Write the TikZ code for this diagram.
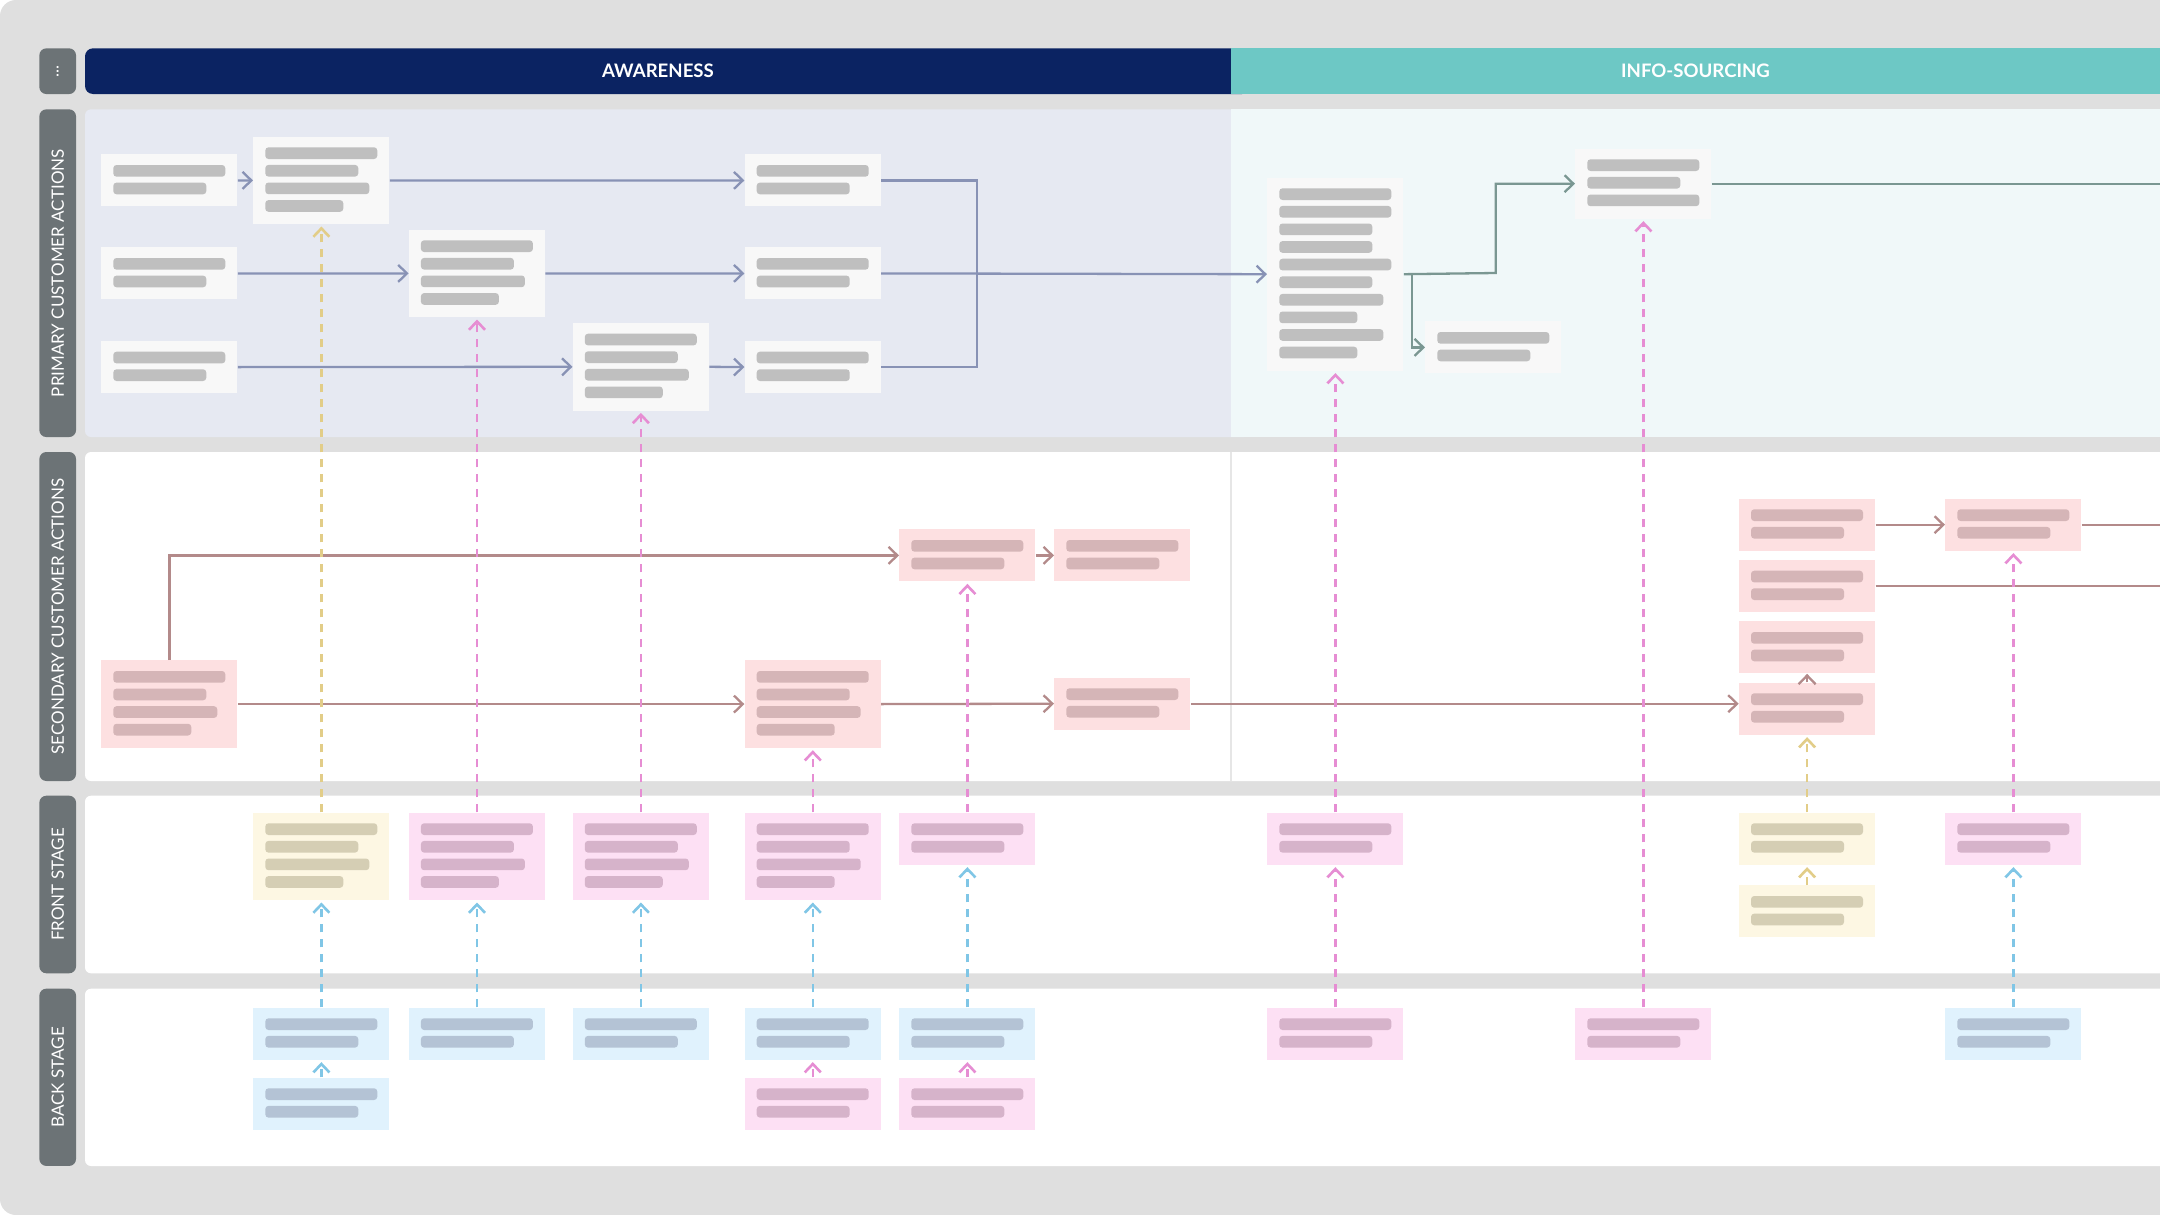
\documentclass[tikz,border=0pt]{standalone}
\usepackage{fontspec}
\setmainfont{Lato}
\usetikzlibrary{arrows.meta}
\definecolor{bggray}{HTML}{DFDFDF}
\definecolor{labgray}{HTML}{6C7376}
\definecolor{navy}{HTML}{0B2362}
\definecolor{teal}{HTML}{6DC8C5}
\definecolor{panA}{HTML}{E6E9F2}
\definecolor{panI}{HTML}{F0F8F9}
\definecolor{divcol}{HTML}{E6E6E6}
\definecolor{Pcard}{HTML}{F8F8F8}
\definecolor{Pbar}{HTML}{BFBFBF}
\definecolor{Scard}{HTML}{FDE0E1}
\definecolor{Sbar}{HTML}{D5B5B7}
\definecolor{Ycard}{HTML}{FDF7E3}
\definecolor{Ybar}{HTML}{D5CEB4}
\definecolor{Mcard}{HTML}{FDE0F4}
\definecolor{Mbar}{HTML}{D6B3CA}
\definecolor{Bcard}{HTML}{E0F2FD}
\definecolor{Bbar}{HTML}{B4C3D5}
\definecolor{pcol}{HTML}{8892B5}
\definecolor{icol}{HTML}{7A9792}
\definecolor{scol}{HTML}{B38A8A}
\definecolor{dY}{HTML}{E2CD88}
\definecolor{dM}{HTML}{E68DD3}
\definecolor{dB}{HTML}{80C6E6}
\def\Wtwo{112,93}
\def\Wthree{112,93,112}
\def\Wfour{112,93,104,78}
\def\Wten{112,112,93,93,112,93,104,78,104,78}
\newcommand\mkcard[6]{%
  \node[cardbox, fill=#5card, minimum height=#4, anchor=north west] (#1) at (#2,#3) {};
  \foreach \w [count=\i from 0] in #6
    \fill[#5bar, rounded corners=1.6pt, shift={(#1.north west)}] (12.3,{11+17.6*\i}) rectangle ++(\w,11.7);
}
\newcommand\ctwo[4]{\mkcard{#1}{#2}{#3}{26pt}{#4}{\Wtwo}}
\newcommand\cthree[4]{\mkcard{#1}{#2}{#3}{35pt}{#4}{\Wthree}}
\newcommand\cfour[4]{\mkcard{#1}{#2}{#3}{43.7pt}{#4}{\Wfour}}
\newcommand\cten[4]{\mkcard{#1}{#2}{#3}{96.5pt}{#4}{\Wten}}
\begin{document}
\begin{tikzpicture}[x=0.5pt,y=-0.5pt,
  cardbox/.style={rectangle, inner sep=0pt, minimum width=68pt, draw=none},
  lab/.style={fill=labgray, rounded corners=3.5pt, text=white, font=\fontsize{8.5}{10}\selectfont, inner sep=0pt, minimum height=18.35pt, rotate=90},
  hdr/.style={text=white, font=\bfseries\fontsize{9.3}{11}\selectfont, inner sep=0pt},
  conn/.style={line width=1.15pt, -{Straight Barb[length=4.4pt,width=8.5pt]}},
  parr/.style={conn, draw=pcol},
  pline/.style={line width=1.15pt, draw=pcol},
  iarr/.style={conn, draw=icol},
  iline/.style={line width=1.15pt, draw=icol},
  sarr/.style={conn, draw=scol},
  sline/.style={line width=1.15pt, draw=scol},
  dsh/.style={line width=1.3pt, dash pattern=on 4pt off 3.5pt, -{Straight Barb[length=4.2pt,width=8pt]}, shorten >=1pt},
  dshY/.style={dsh, draw=dY},
  dshM/.style={dsh, draw=dM},
  dshB/.style={dsh, draw=dB}]
\useasboundingbox (0,0) rectangle (2160,1215);
\clip (0,0) rectangle (2160,1215);
\fill[white] (0,0) rectangle (2160,1215);
\fill[bggray, rounded corners=8pt] (0,0) rectangle (2300,1215);
% header
\fill[navy, rounded corners=4pt] (85,48.3) rectangle (1250,94);
\fill[teal] (1231,48.3) rectangle (2300,94);
\node[hdr] (Haw) at (658,71.2) {AWARENESS};
\node[hdr] (Hinfo) at (1695.5,71.2) {INFO-SOURCING};
% lanes
\fill[panA, rounded corners=3pt] (85,109.3) rectangle (1250,437);
\fill[panI] (1231,109.3) rectangle (2300,437);
\fill[white, rounded corners=3pt] (85,452) rectangle (2300,781);
\draw[divcol, line width=0.6pt] (1231,452) -- (1231,781);
\fill[white, rounded corners=3pt] (85,795.7) rectangle (2300,973.3);
\fill[white, rounded corners=3pt] (85,988.7) rectangle (2300,1166);
% lane labels
\node[lab, minimum width=22.85pt] (Ldots) at (57.7,71.2) {...};
\node[lab, minimum width=163.85pt] (Lprim) at (57.7,273.2) {PRIMARY CUSTOMER ACTIONS};
\node[lab, minimum width=164.5pt] (Lsec) at (57.7,616.5) {SECONDARY CUSTOMER ACTIONS};
\node[lab, minimum width=88.8pt] (Lfront) at (57.7,884.5) {FRONT STAGE};
\node[lab, minimum width=88.65pt] (Lback) at (57.7,1077.3) {BACK STAGE};
\coordinate (E) at (2165,0);
% primary cards
\ctwo{P1}{101}{154}{P}
\cfour{P2}{253}{136.3}{P}
\ctwo{P3}{101}{247}{P}
\cfour{P4}{408.6}{229.3}{P}
\ctwo{P5}{101}{340.7}{P}
\cfour{P6}{572.5}{322.7}{P}
\ctwo{P7}{744.4}{154}{P}
\ctwo{P8}{744.4}{247}{P}
\ctwo{P9}{744.4}{340.7}{P}
\cten{P10}{1267}{177.3}{P}
\cthree{P11}{1575}{148.3}{P}
\ctwo{P12}{1425}{321}{P}
% secondary cards
\cfour{S1}{101}{660}{S}
\cfour{S2}{744.4}{660}{S}
\ctwo{S3}{899}{529}{S}
\ctwo{S4}{1054}{529}{S}
\ctwo{S5}{1054}{677.3}{S}
\ctwo{S6}{1738.7}{498.3}{S}
\ctwo{S7}{1738.7}{559.7}{S}
\ctwo{S8}{1738.7}{621}{S}
\ctwo{S9}{1738.7}{682.3}{S}
\ctwo{S10}{1945}{498.3}{S}
% front stage
\cfour{F1}{253}{812.3}{Y}
\cfour{F2}{408.6}{812.3}{M}
\cfour{F3}{572.5}{812.3}{M}
\cfour{F4}{744.4}{812.3}{M}
\ctwo{F5}{899}{812.3}{M}
\ctwo{F6}{1267}{812.3}{M}
\ctwo{F7}{1738.7}{812.3}{Y}
\ctwo{F8}{1738.7}{885}{Y}
\ctwo{F9}{1945}{812.3}{M}
% back stage
\ctwo{B1}{253}{1007.3}{B}
\ctwo{B2}{253}{1077.3}{B}
\ctwo{B3}{408.6}{1007.3}{B}
\ctwo{B4}{572.5}{1007.3}{B}
\ctwo{B5}{744.4}{1007.3}{B}
\ctwo{B6}{744.4}{1077.3}{M}
\ctwo{B7}{899}{1007.3}{B}
\ctwo{B8}{899}{1077.3}{M}
\ctwo{B9}{1267}{1007.3}{M}
\ctwo{B10}{1575}{1007.3}{M}
\ctwo{B11}{1945}{1007.3}{B}
% primary connectors
\coordinate (J) at (977,273);
\draw[parr] (P1.east) -- (P2.west);
\draw[parr] (P2.east) -- (P7.west);
\draw[parr] (P3.east) -- (P4.west);
\draw[parr] (P4.east) -- (P8.west);
\draw[parr] (P5.east) -- (P6.west);
\draw[parr] (P6.east) -- (P9.west);
\draw[pline] (P7.east) -- (P7.east -| J) -- (P9.east -| J) -- (P9.east);
\draw[parr] (P8.east) -- (P10.west);
\coordinate (K) at (1495.8,273);
\coordinate (K2) at (1411.9,273);
\draw[iarr] (P10.east) -- (K) |- (P11.west);
\draw[iarr] (K2) |- (P12.west);
\draw[iline] (P11.east) -- (P11.east -| E);
% secondary connectors
\draw[sarr] (S1.north) |- (S3.west);
\draw[sarr] (S1.east) -- (S2.west);
\draw[sarr] (S2.east) -- (S5.west);
\draw[sarr] (S3.east) -- (S4.west);
\draw[sarr] (S5.east) -- (S5.east -| S9.west);
\draw[sarr] (S6.east) -- (S10.west);
\draw[sarr] (S9.north) -- (S8.south);
\draw[sline] (S10.east) -- (S10.east -| E);
\draw[sline] (S7.east) -- (S7.east -| E);
% dashed connectors
\draw[dshY] (F1.north) -- (P2.south);
\draw[dshY] (F7.north) -- (S9.south);
\draw[dshY] (F8.north) -- (F7.south);
\draw[dshM] (F2.north) -- (P4.south);
\draw[dshM] (F3.north) -- (P6.south);
\draw[dshM] (F4.north) -- (S2.south);
\draw[dshM] (F5.north) -- (S3.south);
\draw[dshM] (B9.north) -- (F6.south);
\draw[dshM] (F6.north) -- (P10.south);
\draw[dshM] (B10.north) -- (P11.south);
\draw[dshM] (F9.north) -- (S10.south);
\draw[dshM] (B6.north) -- (B5.south);
\draw[dshM] (B8.north) -- (B7.south);
\draw[dshB] (B1.north) -- (F1.south);
\draw[dshB] (B2.north) -- (B1.south);
\draw[dshB] (B3.north) -- (F2.south);
\draw[dshB] (B4.north) -- (F3.south);
\draw[dshB] (B5.north) -- (F4.south);
\draw[dshB] (B7.north) -- (F5.south);
\draw[dshB] (B11.north) -- (F9.south);
\end{tikzpicture}
\end{document}
